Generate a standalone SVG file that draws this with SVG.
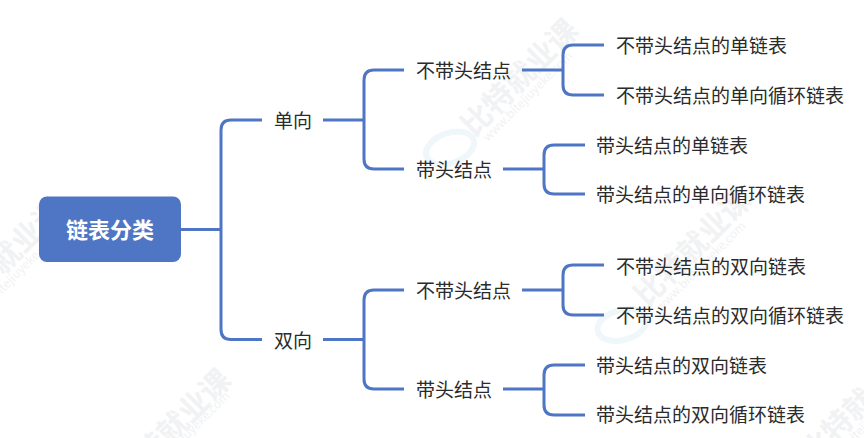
<svg xmlns="http://www.w3.org/2000/svg" width="864" height="438" viewBox="0 0 864 438">
<style>
.c{fill:none;stroke:#4f76c4;stroke-width:3;stroke-linecap:butt}
text{font-family:"Noto Sans CJK SC","Noto Sans",sans-serif}
.t{font-size:19px;fill:#2b2b2b}
.r{font-size:22px;font-weight:700;fill:#fff}
.w{font-size:30px;font-weight:700;fill:#f1f2f3}
.u{font-size:12px;fill:#f1f2f3}
.e{fill:none;stroke:#eff7fb;stroke-width:6}
</style>
<rect width="864" height="438" fill="#fff"/>
<g id="watermarks">
<text class="w" transform="translate(474 138) rotate(-45)">比特就业课</text>
<text class="u" transform="translate(488 142) rotate(-45)">www.bitejiuyeke.com</text>
<ellipse class="e" cx="450" cy="148" rx="25" ry="15" transform="rotate(-20 450 148)"/>
<text class="w" transform="translate(-40 318) rotate(-45)">比特就业课</text>
<text class="u" transform="translate(-26 322) rotate(-45)">www.bitejiuyeke.com</text>
<text class="w" transform="translate(647 308) rotate(-45)">比特就业课</text>
<text class="u" transform="translate(661 312) rotate(-45)">www.bitejiuyeke.com</text>
<ellipse class="e" cx="622" cy="325" rx="25" ry="15" transform="rotate(-15 622 325)"/>
<text class="w" transform="translate(127 488) rotate(-45)">比特就业课</text>
<text class="u" transform="translate(145 482) rotate(-45)">www.bitejiuyeke.com</text>
<text class="w" transform="translate(813 465) rotate(-45)">比特就业课</text>
<text class="u" transform="translate(827 469) rotate(-45)">www.bitejiuyeke.com</text>
</g>
<g id="connectors">
<path class="c" d="M181 229.500H221"/>
<path class="c" d="M262 120H231Q221 120 221 130V329.500Q221 339.500 231 339.500H262"/>
<path class="c" d="M323 120H364"/>
<path class="c" d="M404 70H374Q364 70 364 80V159Q364 169 374 169H404"/>
<path class="c" d="M323 339.500H364"/>
<path class="c" d="M404 290H374Q364 290 364 300V379Q364 389 374 389H404"/>
<path class="c" d="M522 70H563"/>
<path class="c" d="M604 45H573Q563 45 563 55V85Q563 95 573 95H604"/>
<path class="c" d="M503 169H544"/>
<path class="c" d="M585 145H554Q544 145 544 155V184Q544 194 554 194H585"/>
<path class="c" d="M522 290H563"/>
<path class="c" d="M604 265H573Q563 265 563 275V305Q563 315 573 315H604"/>
<path class="c" d="M503 389H544"/>
<path class="c" d="M585 365H554Q544 365 544 375V405Q544 415 554 415H585"/>
</g>
<g id="root"><rect x="39" y="196.500" width="142" height="65.500" rx="8" fill="#4f76c4"/><text class="r" x="66" y="238">链表分类</text></g>
<g id="n1"><text class="t" x="274" y="128">单向</text></g>
<g id="n2"><text class="t" x="274" y="348">双向</text></g>
<g id="n3"><text class="t" x="416" y="78">不带头结点</text></g>
<g id="n4"><text class="t" x="416" y="177">带头结点</text></g>
<g id="n5"><text class="t" x="416" y="298">不带头结点</text></g>
<g id="n6"><text class="t" x="416" y="397">带头结点</text></g>
<g id="n7"><text class="t" x="616" y="53">不带头结点的单链表</text></g>
<g id="n8"><text class="t" x="616" y="103">不带头结点的单向循环链表</text></g>
<g id="n9"><text class="t" x="596" y="153">带头结点的单链表</text></g>
<g id="n10"><text class="t" x="596" y="202">带头结点的单向循环链表</text></g>
<g id="n11"><text class="t" x="616" y="274">不带头结点的双向链表</text></g>
<g id="n12"><text class="t" x="616" y="323">不带头结点的双向循环链表</text></g>
<g id="n13"><text class="t" x="596" y="373">带头结点的双向链表</text></g>
<g id="n14"><text class="t" x="596" y="422">带头结点的双向循环链表</text></g>
</svg>
